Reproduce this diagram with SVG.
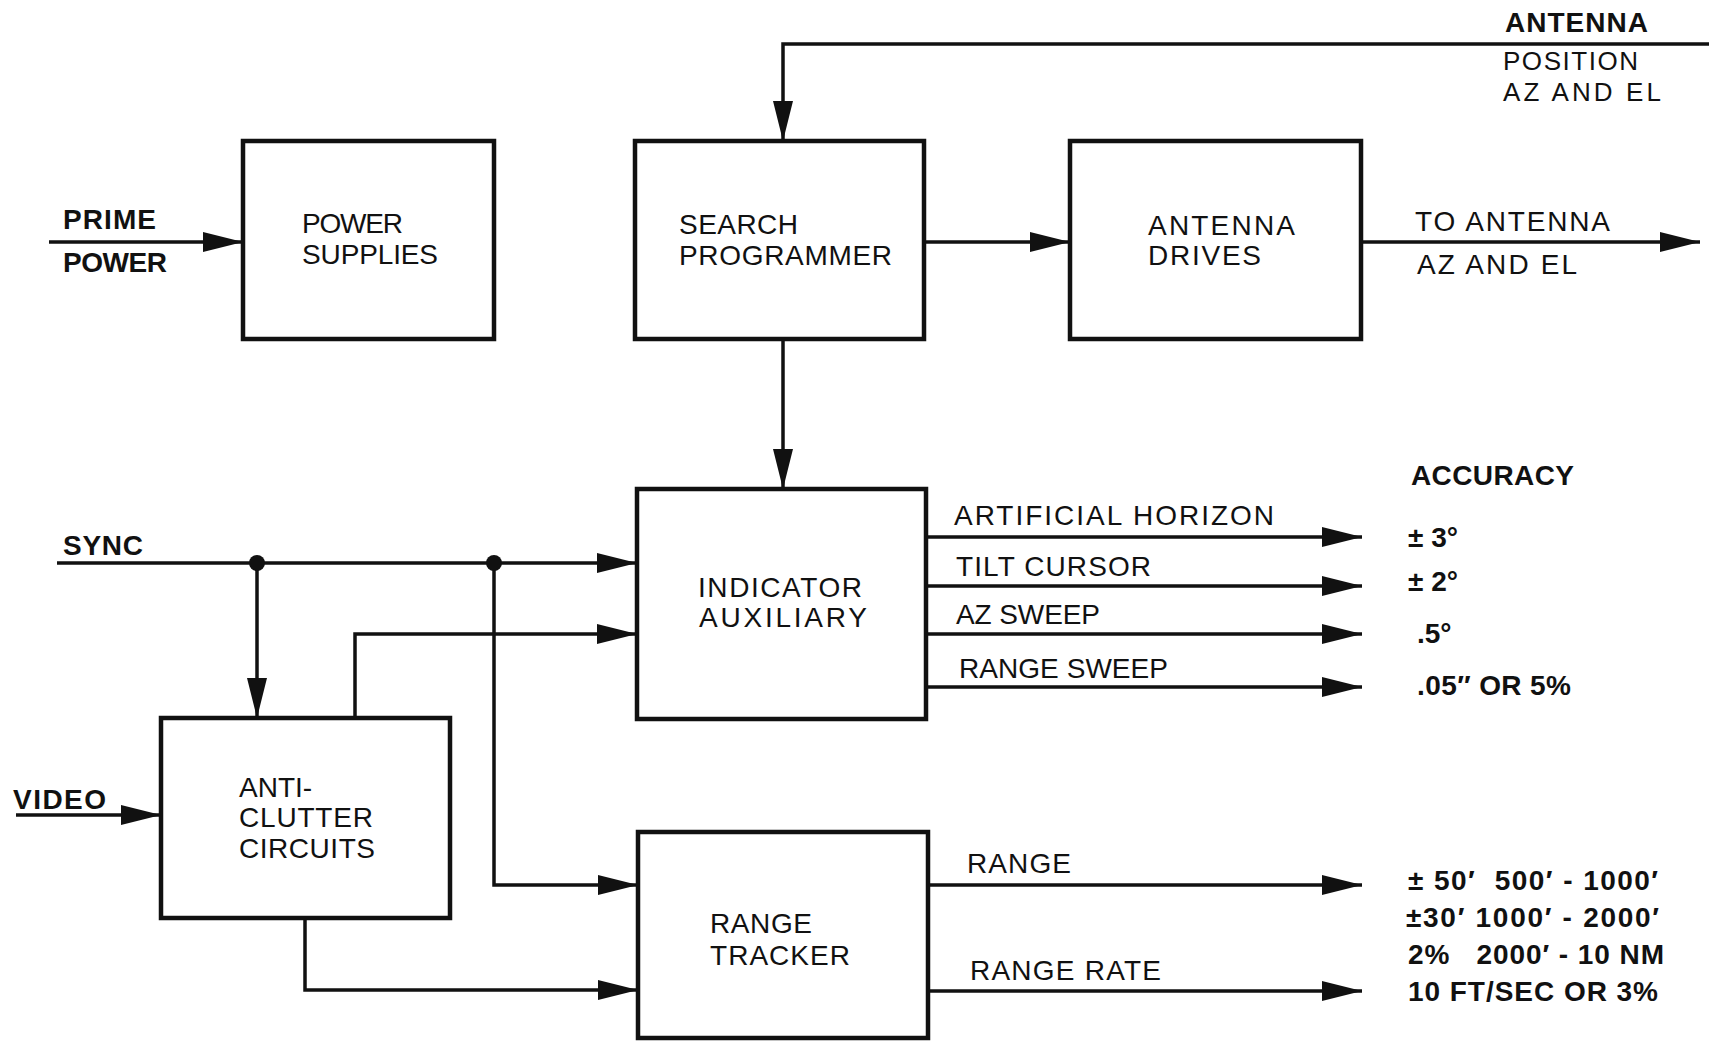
<svg xmlns="http://www.w3.org/2000/svg" width="1709" height="1041" viewBox="0 0 1709 1041">
<style>
.box{fill:#fff;stroke:#111;stroke-width:4.5}
.ln{fill:none;stroke:#111;stroke-width:3.5}
.t{font-family:"Liberation Sans",Arial,Helvetica,sans-serif;font-size:28px;fill:#111}
.s{font-size:26px}
.b{font-weight:bold}
.dot{fill:#111}
</style>
<defs>
<marker id="ah" markerUnits="userSpaceOnUse" markerWidth="42" markerHeight="22" refX="40" refY="11" orient="auto">
<path d="M0,1 L40,11 L0,21 Z" fill="#111"/>
</marker>
</defs>
<rect width="1709" height="1041" fill="#fff"/>
<g id="connectors">
<path class="ln" d="M49,242 H243" marker-end="url(#ah)"/>
<path class="ln" d="M924,242 H1070" marker-end="url(#ah)"/>
<path class="ln" d="M1361,242 H1700" marker-end="url(#ah)"/>
<path class="ln" d="M1709,44 H783 V141" marker-end="url(#ah)"/>
<path class="ln" d="M783,339 V489" marker-end="url(#ah)"/>
<path class="ln" d="M57,563 H637" marker-end="url(#ah)"/>
<path class="ln" d="M257,563 V718" marker-end="url(#ah)"/>
<path class="ln" d="M494,563 V885 H638" marker-end="url(#ah)"/>
<path class="ln" d="M355,718 V634 H637" marker-end="url(#ah)"/>
<path class="ln" d="M16,815 H161" marker-end="url(#ah)"/>
<path class="ln" d="M305,918 V990 H638" marker-end="url(#ah)"/>
<path class="ln" d="M926,537 H1362" marker-end="url(#ah)"/>
<path class="ln" d="M926,586 H1362" marker-end="url(#ah)"/>
<path class="ln" d="M926,634 H1362" marker-end="url(#ah)"/>
<path class="ln" d="M926,687 H1362" marker-end="url(#ah)"/>
<path class="ln" d="M928,885 H1362" marker-end="url(#ah)"/>
<path class="ln" d="M928,991 H1362" marker-end="url(#ah)"/>
<circle class="dot" cx="257" cy="563" r="8"/>
<circle class="dot" cx="494" cy="563" r="8"/>
</g>
<g id="power-supplies">
<rect class="box" x="243" y="141" width="251" height="198"/>
<text class="t" x="302" y="233" textLength="101">POWER</text>
<text class="t" x="302" y="264" textLength="136">SUPPLIES</text>
</g>
<g id="search-programmer">
<rect class="box" x="635" y="141" width="289" height="198"/>
<text class="t" x="679" y="234" textLength="119">SEARCH</text>
<text class="t" x="679" y="265" textLength="213">PROGRAMMER</text>
</g>
<g id="antenna-drives">
<rect class="box" x="1070" y="141" width="291" height="198"/>
<text class="t" x="1148" y="235" textLength="147">ANTENNA</text>
<text class="t" x="1148" y="265" textLength="113">DRIVES</text>
</g>
<g id="indicator-auxiliary">
<rect class="box" x="637" y="489" width="289" height="230"/>
<text class="t" x="698" y="597" textLength="164">INDICATOR</text>
<text class="t" x="699" y="627" textLength="168">AUXILIARY</text>
</g>
<g id="anti-clutter-circuits">
<rect class="box" x="161" y="718" width="289" height="200"/>
<text class="t" x="239" y="797">ANTI-</text>
<text class="t" x="239" y="827" textLength="134">CLUTTER</text>
<text class="t" x="239" y="858" textLength="136">CIRCUITS</text>
</g>
<g id="range-tracker">
<rect class="box" x="638" y="832" width="290" height="206"/>
<text class="t" x="710" y="933" textLength="102">RANGE</text>
<text class="t" x="710" y="965" textLength="140">TRACKER</text>
</g>
<g id="labels">
<text class="t b" x="63" y="229" textLength="93">PRIME</text>
<text class="t b" x="63" y="272" textLength="104">POWER</text>
<text class="t b" x="1505" y="32" textLength="143">ANTENNA</text>
<text class="t s" x="1503" y="70" textLength="135">POSITION</text>
<text class="t s" x="1503" y="101" textLength="158">AZ AND EL</text>
<text class="t" x="1415" y="231" textLength="195">TO ANTENNA</text>
<text class="t" x="1417" y="274" textLength="160">AZ AND EL</text>
<text class="t b" x="63" y="555" textLength="80">SYNC</text>
<text class="t b" x="13" y="809" textLength="93">VIDEO</text>
<text class="t" x="954" y="525" textLength="320">ARTIFICIAL HORIZON</text>
<text class="t" x="956" y="576" textLength="195">TILT CURSOR</text>
<text class="t" x="956" y="624" textLength="144">AZ SWEEP</text>
<text class="t" x="959" y="678" textLength="209">RANGE SWEEP</text>
<text class="t" x="967" y="873" textLength="104">RANGE</text>
<text class="t" x="970" y="980" textLength="191">RANGE RATE</text>
<text class="t b" x="1411" y="485" textLength="163">ACCURACY</text>
<text class="t b" x="1408" y="547">± 3°</text>
<text class="t b" x="1408" y="591">± 2°</text>
<text class="t b" x="1417" y="643">.5°</text>
<text class="t b" x="1417" y="695" textLength="154">.05″ OR 5%</text>
<text class="t b" x="1408" y="890" xml:space="preserve" textLength="250">± 50′  500′ - 1000′</text>
<text class="t b" x="1406" y="927" textLength="253">±30′ 1000′ - 2000′</text>
<text class="t b" x="1408" y="964" xml:space="preserve" textLength="256">2%   2000′ - 10 NM</text>
<text class="t b" x="1408" y="1001" textLength="250">10 FT/SEC OR 3%</text>
</g>
</svg>
